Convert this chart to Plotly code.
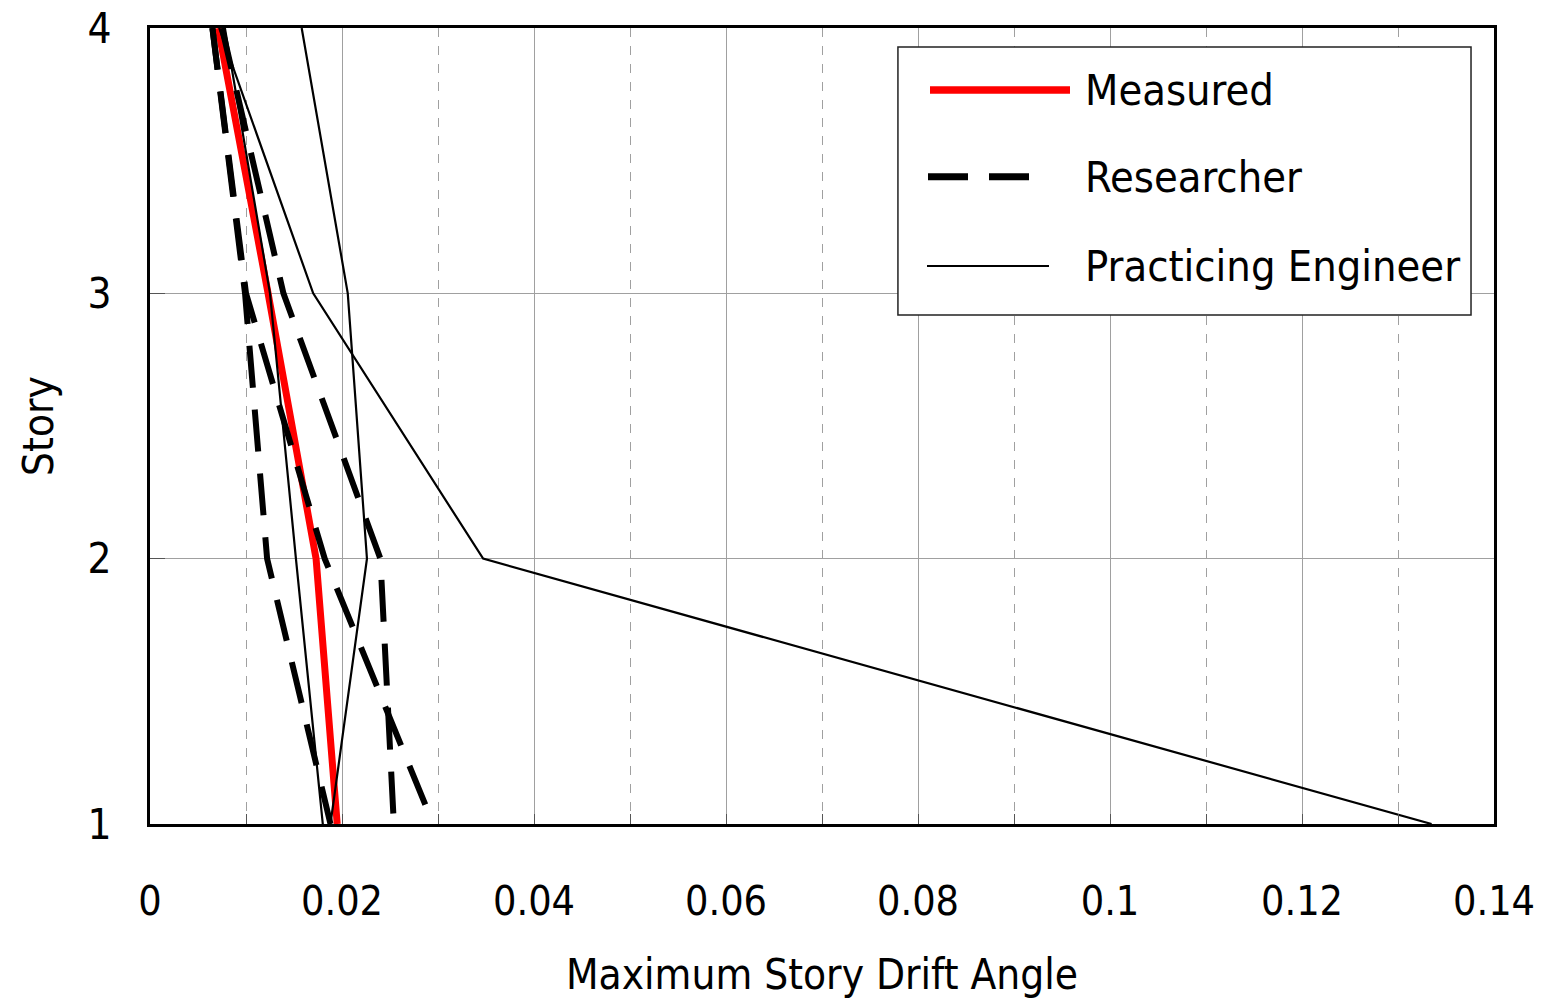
import plotly.graph_objects as go

stories = [4, 3, 2, 1]
measured = [0.0071, 0.0123, 0.0173, 0.0195]
researcher_1 = [0.0065, 0.0099, 0.0122, 0.0188]
researcher_2 = [0.0075, 0.0139, 0.0240, 0.0254]
researcher_3 = [0.0065, 0.0100, 0.0182, 0.0295]
engineer_1 = [0.0158, 0.0206, 0.0226, 0.0188]
engineer_2 = [0.0072, 0.0170, 0.0347, 0.1335]
engineer_3 = [0.0078, 0.0125, 0.0152, 0.0180]

x_ticks = [0, 0.02, 0.04, 0.06, 0.08, 0.1, 0.12, 0.14]
x_tick_labels = ["0", "0.02", "0.04", "0.06", "0.08", "0.1", "0.12", "0.14"]
y_ticks = [1, 2, 3, 4]
legend_names = ["Measured", "Researcher", "Practicing Engineer"]

FONT = "DejaVu Sans Condensed, Liberation Sans Narrow, sans-serif"

def f(size=42):
    return dict(family=FONT, size=size, color="black")

fig = go.Figure()
fig.add_trace(go.Scatter(x=measured, y=stories, mode="lines",
                         line=dict(color="#ff0000", width=7), showlegend=False))
for r in [researcher_1, researcher_2, researcher_3]:
    fig.add_trace(go.Scatter(x=r, y=stories, mode="lines",
                             line=dict(color="black", width=6, dash="42px,22px"), showlegend=False))
for e in [engineer_1, engineer_2, engineer_3]:
    fig.add_trace(go.Scatter(x=e, y=stories, mode="lines",
                             line=dict(color="black", width=2.2), showlegend=False))

# Legend drawn manually (paper coordinates)
fig.add_shape(type="rect", xref="paper", yref="paper", x0=0.5565, x1=0.9829, y0=0.6394, y1=0.9761,
              line=dict(color="#222", width=1.5), fillcolor="white", layer="above")
ys = [0.922, 0.813, 0.701]
fig.add_shape(type="line", xref="paper", yref="paper", x0=(930 - 150) / 1344, x1=(1070 - 150) / 1344,
              y0=ys[0], y1=ys[0], line=dict(color="#ff0000", width=7.5), layer="above")
fig.add_shape(type="line", xref="paper", yref="paper", x0=(928 - 150) / 1344, x1=(1030 - 150) / 1344,
              y0=ys[1], y1=ys[1], line=dict(color="black", width=7, dash="40px,21px"), layer="above")
fig.add_shape(type="line", xref="paper", yref="paper", x0=(927 - 150) / 1344, x1=(1049 - 150) / 1344,
              y0=ys[2], y1=ys[2], line=dict(color="black", width=2), layer="above")
for name, yy in zip(legend_names, ys):
    fig.add_annotation(xref="paper", yref="paper", x=(1083 - 150) / 1344, y=yy, text=name,
                       showarrow=False, xanchor="left", yanchor="middle", font=f(43))

fig.update_layout(
    width=1546, height=1004,
    margin=dict(l=150, r=52, t=28, b=180),
    paper_bgcolor="white", plot_bgcolor="white",
    font=f(),
    showlegend=False,
)
fig.update_xaxes(
    range=[0, 0.14], tickvals=x_ticks, ticktext=x_tick_labels,
    showline=True, linecolor="black", linewidth=3, mirror=True,
    showgrid=True, gridcolor="#a0a0a0", gridwidth=1,
    ticks="inside", ticklen=10, tickcolor="#555", tickwidth=1,
    ticklabelstandoff=39, ticklabeloverflow="allow", automargin=False,
    tickfont=f(41),
    minor=dict(dtick=0.01, showgrid=True, gridcolor="#a0a0a0", griddash="dash", gridwidth=1,
               ticks="inside", ticklen=10, tickcolor="#555"),
    zeroline=False,
    title=dict(text="Maximum Story Drift Angle", standoff=36, font=f(42)),
)
fig.update_yaxes(
    range=[1, 4], tickvals=y_ticks,
    showline=True, linecolor="black", linewidth=3, mirror=True,
    showgrid=True, gridcolor="#a0a0a0", gridwidth=1,
    ticks="inside", ticklen=15, tickcolor="#555", tickwidth=1,
    ticklabelstandoff=27, ticklabeloverflow="allow", automargin=False,
    tickfont=f(42),
    zeroline=False,
    title=dict(text="Story", standoff=21, font=f(42)),
)

fig.write_html("out.html")
